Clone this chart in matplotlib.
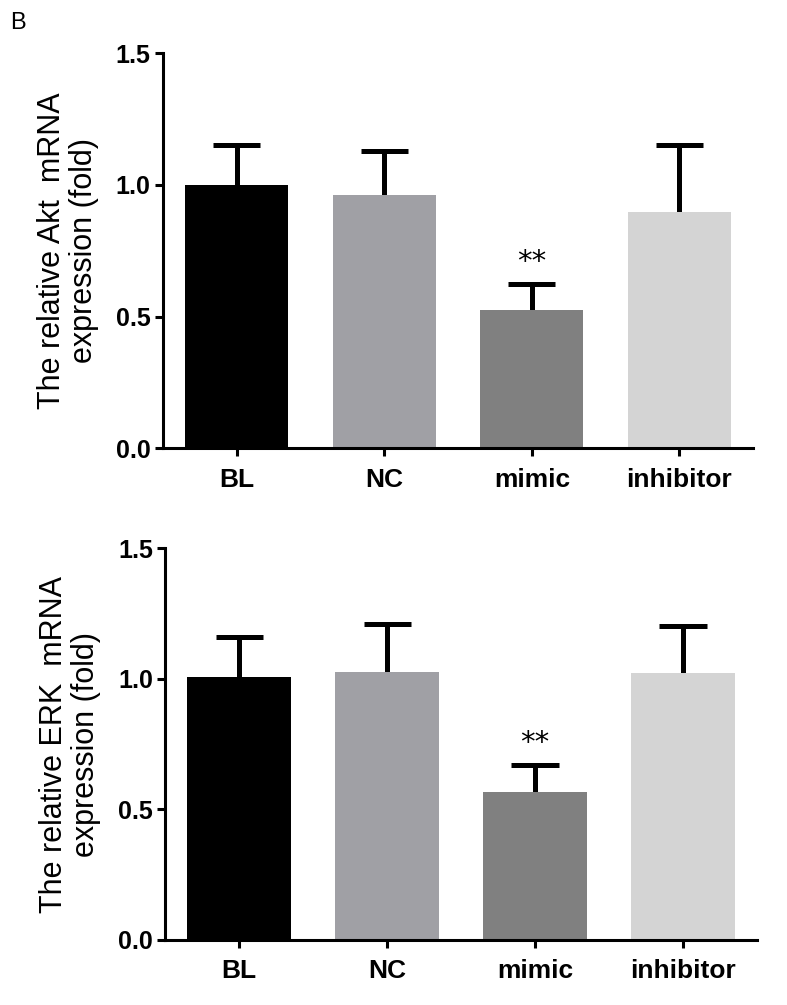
import matplotlib
matplotlib.use("Agg")
import matplotlib.pyplot as plt
import numpy as np

plt.rcParams["font.family"] = ["Liberation Sans", "DejaVu Sans"]

# ----- data -----------------------------------------------------------------
groups = ["BL", "NC", "mimic", "inhibitor"]
colors = ["#000000", "#a0a0a5", "#808080", "#d4d4d4"]

akt_mean = [1.00, 0.962, 0.524, 0.898]
akt_err = [0.150, 0.168, 0.100, 0.254]

erk_mean = [1.005, 1.027, 0.567, 1.023]
erk_err = [0.155, 0.183, 0.103, 0.180]

sig = ["", "", "**", ""]

panels = [
    ("The relative Akt  mRNA\nexpression (fold)", akt_mean, akt_err,
     [0.207, 0.554, 0.750, 0.393]),
    ("The relative ERK  mRNA\nexpression (fold)", erk_mean, erk_err,
     [0.210, 0.0647, 0.752, 0.390]),
]

fig = plt.figure(figsize=(7.87, 10.05), dpi=100)
x = np.arange(len(groups))
cap = 0.16  # half-width of error caps, in x units

for ylab, mean, err, rect in panels:
    ax = fig.add_axes(rect)
    mean = np.asarray(mean)
    top = mean + np.asarray(err)
    ax.bar(x, mean, width=0.70, color=colors, zorder=2)
    # upper-only error bars (GraphPad style)
    ax.vlines(x, mean, top, color="black", lw=3.6, zorder=1)
    ax.hlines(top, x - cap, x + cap, color="black", lw=3.6, zorder=1)
    for xi, t, s in zip(x, top, sig):
        if s:
            ax.text(xi, t + 0.03, s, ha="center", va="bottom",
                    fontsize=21, family="DejaVu Sans")
    ax.set_xlim(-0.5, 3.5)
    ax.set_ylim(0, 1.5)
    ax.set_yticks([0.0, 0.5, 1.0, 1.5])
    ax.set_yticklabels(["0.0", "0.5", "1.0", "1.5"], fontsize=18,
                       fontweight="bold")
    ax.set_xticks(x)
    ax.set_xticklabels(groups, fontsize=19, fontweight="bold")
    ax.spines["top"].set_visible(False)
    ax.spines["right"].set_visible(False)
    for sp in ("left", "bottom"):
        ax.spines[sp].set_linewidth(2.2)
    ax.tick_params(width=2.2, length=6, pad=3)
    ax.tick_params(axis="x", pad=8)
    ax.set_ylabel(ylab, fontsize=22, linespacing=1.1, labelpad=12)

fig.text(0.013, 0.988, "B", fontsize=17, va="top", ha="left")

fig.savefig("out.png", dpi=100)
